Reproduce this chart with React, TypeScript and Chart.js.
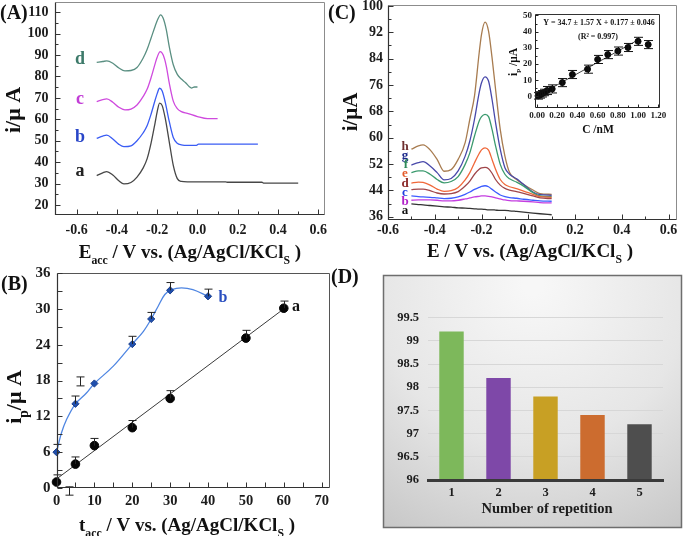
import { useEffect, useRef } from 'react';
import { Chart, registerables } from 'chart.js';

Chart.register(...registerables);

const W = 685;
const H = 536;
const SERIF = '"Liberation Serif", "Times New Roman", Times, serif';

// ---------- (A) stripping curves at different accumulation potentials ----------
const accE_a = [-0.5, -0.47, -0.45, -0.42, -0.39, -0.365, -0.33, -0.3, -0.27, -0.25, -0.23, -0.21, -0.2, -0.188, -0.175, -0.16, -0.14, -0.12, -0.1, -0.08, -0.05, 0.0, 0.14, 0.15, 0.32, 0.33, 0.5];
const accI_a = [33.7, 35.0, 35.6, 34.0, 31.3, 29.8, 30.5, 33.0, 37.2, 41.5, 49.0, 58.5, 63.5, 67.6, 66.4, 60.5, 49.5, 38.5, 32.3, 31.0, 30.8, 30.8, 30.8, 30.6, 30.6, 30.2, 30.2];
const accE_b = [-0.5, -0.47, -0.45, -0.42, -0.39, -0.365, -0.33, -0.3, -0.27, -0.25, -0.23, -0.21, -0.2, -0.188, -0.175, -0.16, -0.14, -0.12, -0.1, -0.08, -0.05, -0.005, 0.005, 0.3];
const accI_b = [51.1, 52.2, 52.6, 50.8, 48.3, 47.2, 47.6, 50.0, 53.6, 57.0, 62.5, 69.0, 72.0, 74.5, 73.2, 68.0, 59.0, 51.5, 48.8, 48.1, 47.8, 47.8, 48.4, 48.4];
const accE_c = [-0.5, -0.47, -0.45, -0.42, -0.39, -0.36, -0.33, -0.3, -0.27, -0.25, -0.23, -0.21, -0.2, -0.185, -0.17, -0.155, -0.14, -0.12, -0.1, -0.08, -0.05, 0.0, 0.05, 0.1];
const accI_c = [68.3, 69.2, 69.5, 68.0, 65.6, 64.4, 64.8, 66.7, 70.6, 74.0, 79.5, 86.0, 89.0, 91.6, 90.0, 85.0, 77.0, 68.5, 65.0, 63.6, 62.8, 61.3, 60.3, 60.3];
const accE_d = [-0.5, -0.47, -0.45, -0.42, -0.39, -0.36, -0.33, -0.3, -0.27, -0.25, -0.23, -0.21, -0.2, -0.183, -0.17, -0.155, -0.14, -0.12, -0.1, -0.08, -0.06, -0.04, -0.03, -0.015, 0.0];
const accI_d = [86.6, 87.0, 87.3, 86.2, 84.0, 82.6, 82.8, 84.2, 88.5, 92.6, 98.0, 103.5, 106.0, 108.8, 107.2, 102.0, 94.0, 85.5, 81.0, 78.8, 77.2, 75.2, 74.6, 75.1, 75.1];

// ---------- (B) peak current vs accumulation time ----------
const bTimeA = [0, 5, 10, 20, 30, 50, 60];
const bPeakA = [1.0, 4.0, 7.1, 10.1, 15.0, 25.1, 30.1];
const bErrA = [1.2, 1.2, 1.2, 1.2, 1.3, 1.3, 1.2];
const bFitT = [0, 60];
const bFitI = [1.5, 30.0];
const bTimeB = [0, 5, 10, 20, 25, 30, 40];
const bPeakB = [6.0, 14.1, 17.5, 24.1, 28.3, 33.1, 32.1];
const bErrB = [1.3, 1.3, 0, 1.3, 1.1, 1.3, 1.2];
const bCurveT = [0, 1.3, 2.6, 5, 7.9, 10, 15, 20, 22.9, 25, 26.8, 28.6, 30.4, 33, 36, 40];
const bCurveI = [6.0, 9.2, 11.4, 14.1, 15.9, 17.5, 20.4, 24.1, 26.2, 28.3, 30.4, 32.4, 33.2, 33.5, 33.2, 32.1];
const bLoneT = [6.2, 3.3];
const bLoneLo = [17.1, -1.2];
const bLoneHi = [18.6, 0.2];

// ---------- (C) curves a–h for increasing concentration ----------
const concE = [-0.5, -0.47, -0.45, -0.42, -0.39, -0.36, -0.33, -0.3, -0.27, -0.25, -0.23, -0.21, -0.2, -0.185, -0.17, -0.155, -0.14, -0.12, -0.1, -0.08, -0.05, -0.02, 0.02, 0.05, 0.1];
const concI_h = [56.5, 57.5, 57.8, 56.3, 53.4, 49.8, 50.3, 53.4, 58.5, 65.6, 72.7, 85.8, 91.4, 95.1, 92.4, 84.3, 74.7, 62.5, 54.4, 49.4, 47.3, 45.8, 44.1, 43.0, 42.8];
const concI_g = [51.7, 52.4, 52.7, 51.4, 49.4, 47.2, 47.6, 49.9, 54.4, 59.0, 65.6, 73.7, 76.7, 78.5, 77.2, 71.6, 64.6, 56.5, 50.9, 48.9, 47.5, 45.8, 43.5, 42.7, 42.5];
const concI_f = [49.4, 49.9, 49.9, 48.9, 47.3, 46.3, 46.7, 48.2, 51.9, 55.4, 60.5, 65.1, 66.4, 67.1, 66.4, 62.5, 57.5, 51.9, 48.9, 47.5, 46.5, 45.3, 43.3, 42.3, 42.1];
const concI_e = [46.2, 46.5, 46.4, 45.6, 44.4, 43.7, 43.9, 44.9, 47.2, 49.4, 52.4, 55.2, 56.3, 56.9, 56.2, 53.4, 50.4, 47.3, 45.8, 45.1, 44.5, 43.8, 42.8, 42.1, 41.9];
const concI_d = [44.2, 44.4, 44.4, 43.9, 43.2, 42.9, 43.0, 43.6, 45.3, 46.8, 48.9, 50.4, 50.8, 51.0, 50.6, 49.2, 47.3, 45.6, 44.6, 44.1, 43.6, 43.1, 42.3, 41.7, 41.5];
const concI_c = [42.3, 42.1, 42.0, 41.9, 41.7, 41.5, 41.6, 42.0, 42.8, 43.5, 44.3, 44.9, 45.2, 45.4, 45.1, 44.3, 43.5, 42.6, 42.1, 41.8, 41.6, 41.3, 41.0, 40.8, 40.7];
const concI_b = [41.0, 41.1, 41.1, 41.1, 41.0, 40.8, 40.8, 41.0, 41.4, 41.7, 42.0, 42.2, 42.3, 42.3, 42.2, 42.0, 41.7, 41.4, 41.1, 40.9, 40.8, 40.7, 40.5, 40.3, 40.2];
const concI_a = [39.9, 39.7, 39.6, 39.4, 39.2, 39.0, 38.9, 38.7, 38.6, 38.5, 38.4, 38.3, 38.3, 38.2, 38.1, 38.1, 38.0, 37.9, 37.9, 37.8, 37.6, 37.4, 37.1, 36.9, 36.6];

// ---------- (C) inset: calibration ----------
const insetConc = [0.01, 0.03, 0.05, 0.07, 0.1, 0.15, 0.25, 0.35, 0.5, 0.6, 0.7, 0.8, 0.9, 1.0, 1.1];
const insetPeak = [0.3, 0.9, 1.6, 2.4, 3.6, 4.6, 8.5, 13.5, 16.8, 22.8, 25.8, 28.0, 30.2, 34.0, 32.0];
const insetErr = [2, 2, 2, 2, 2.5, 2.5, 2.5, 2.5, 2.5, 2.5, 2.5, 2.5, 2.5, 2.5, 2.5];
const insetSlope = 34.7;
const insetIntercept = 0.177;
const insetFitConc = [0, 1.0];

// ---------- (D) repeatability ----------
const repetition = ['1', '2', '3', '4', '5'];
const recovery = [99.2, 98.2, 97.8, 97.4, 97.2];

// ---------- tick positions ----------
const potTicks = [-0.6, -0.4, -0.2, 0, 0.2, 0.4, 0.6];
const potMinor = [-0.5, -0.3, -0.1, 0.1, 0.3, 0.5];
const aYTicks = [20, 30, 40, 50, 60, 70, 80, 90, 100, 110];
const aYMinor = [25, 35, 45, 55, 65, 75, 85, 95, 105];
const bXTicks = [0, 10, 20, 30, 40, 50, 60, 70];
const bXMinor = [5, 15, 25, 35, 45, 55, 65];
const bYTicks = [0, 6, 12, 18, 24, 30, 36];
const bYMinor = [3, 9, 15, 21, 27, 33];
const cYTicks = [36, 44, 52, 60, 68, 76, 84, 92, 100];
const cYMinor = [40, 48, 56, 64, 72, 80, 88, 96];
const insetXTicks = [0, 0.2, 0.4, 0.6, 0.8, 1.0, 1.2];
const insetXMinor = [0.1, 0.3, 0.5, 0.7, 0.9, 1.1];
const insetYTicks = [0, 10, 20, 30, 40, 50];
const insetYMinor = [5, 15, 25, 35, 45];
const dYTicks = [96, 96.5, 97, 97.5, 98, 98.5, 99, 99.5];

// ---------- plot rectangles on the page (axis band sizes reserve room for tick labels) ----------
type Area = { left: number; top: number; right: number; bottom: number; yW: number; xH: number };
const areaA: Area = { left: 55, top: 2, right: 325, bottom: 215, yW: 50, xH: 30 };
const areaB: Area = { left: 56.5, top: 273, right: 330, bottom: 488, yW: 50, xH: 30 };
const areaC: Area = { left: 388, top: 5, right: 677, bottom: 220, yW: 40, xH: 26 };
const areaIn: Area = { left: 535, top: 14, right: 660, bottom: 108, yW: 24, xH: 16 };
const areaD: Area = { left: 428, top: 317.7, right: 663, bottom: 480, yW: 42, xH: 24 };

const baseOptions = (area: Area) => ({
  responsive: false,
  animation: false as const,
  devicePixelRatio: 1,
  events: [] as any[],
  layout: {
    autoPadding: false,
    padding: {
      left: area.left - area.yW,
      top: area.top,
      right: W - area.right,
      bottom: H - area.bottom - area.xH,
    },
  },
  plugins: { legend: { display: false }, tooltip: { enabled: false } },
});

const fixSize = (horizontal: boolean, size: number) => (s: any) => {
  if (horizontal) s.height = size;
  else s.width = size;
  s.paddingLeft = 0;
  s.paddingRight = 0;
  s.paddingTop = 0;
  s.paddingBottom = 0;
};

function numAxis(o: { min: number; max: number; ticks: number[]; fmt: (v: number) => string; size: number; pad: number; horizontal: boolean; band: number }) {
  return {
    type: 'linear',
    min: o.min,
    max: o.max,
    grid: { display: false, drawTicks: false },
    border: { display: false },
    afterBuildTicks: (s: any) => {
      s.ticks = o.ticks.map((v) => ({ value: v }));
    },
    afterFit: fixSize(o.horizontal, o.band),
    ticks: {
      autoSkip: false,
      maxRotation: 0,
      minRotation: 0,
      padding: o.pad,
      color: '#1c1c1c',
      font: { family: SERIF, weight: 'bold', size: o.size },
      callback: (v: any) => o.fmt(Number(v)),
    },
  };
}

// frame around the plot area plus major / minor tick marks pointing inward
function frameTicks(o: { xMaj: number[]; xMin: number[]; yMaj: number[]; yMin: number[]; maj: number; min: number; frame: string; axis: string; width?: number }) {
  return {
    id: 'frameTicks',
    afterDraw(chart: any) {
      const { ctx, chartArea: a } = chart;
      const sx = chart.scales.x;
      const sy = chart.scales.y;
      const L = Math.round(a.left) + 0.5;
      const R = Math.round(a.right) - 0.5;
      const T = Math.round(a.top) + 0.5;
      const B = Math.round(a.bottom) - 0.5;
      ctx.save();
      ctx.lineWidth = 1;
      ctx.strokeStyle = o.frame;
      ctx.beginPath();
      ctx.moveTo(L, T);
      ctx.lineTo(R, T);
      ctx.lineTo(R, B);
      ctx.stroke();
      ctx.lineWidth = o.width || 1.2;
      ctx.strokeStyle = o.axis;
      ctx.beginPath();
      ctx.moveTo(L, T);
      ctx.lineTo(L, B);
      ctx.lineTo(R, B);
      ctx.stroke();
      ctx.lineWidth = 1;
      ctx.beginPath();
      const tx = (v: number, len: number) => {
        const p = Math.round(sx.getPixelForValue(v)) + 0.5;
        ctx.moveTo(p, B);
        ctx.lineTo(p, B - len);
      };
      const ty = (v: number, len: number) => {
        const p = Math.round(sy.getPixelForValue(v)) + 0.5;
        ctx.moveTo(L, p);
        ctx.lineTo(L + len, p);
      };
      o.xMaj.forEach((v) => tx(v, o.maj));
      o.xMin.forEach((v) => tx(v, o.min));
      o.yMaj.forEach((v) => ty(v, o.maj));
      o.yMin.forEach((v) => ty(v, o.min));
      ctx.stroke();
      ctx.restore();
    },
  };
}

type Part = { t: string; sub?: boolean };

function richText(ctx: CanvasRenderingContext2D, parts: Part[], x: number, y: number, size: number, color: string, rotate = false) {
  ctx.save();
  ctx.translate(x, y);
  if (rotate) ctx.rotate(-Math.PI / 2);
  ctx.fillStyle = color;
  ctx.textBaseline = 'alphabetic';
  ctx.textAlign = 'left';
  const fontFor = (p: Part) => `bold ${p.sub ? size * 0.62 : size}px ${SERIF}`;
  let total = 0;
  parts.forEach((p) => {
    ctx.font = fontFor(p);
    total += ctx.measureText(p.t).width;
  });
  let cx = -total / 2;
  const base = size * 0.33;
  parts.forEach((p) => {
    ctx.font = fontFor(p);
    ctx.fillText(p.t, cx, base + (p.sub ? size * 0.3 : 0));
    cx += ctx.measureText(p.t).width;
  });
  ctx.restore();
}

function label(ctx: CanvasRenderingContext2D, text: string, x: number, y: number, size: number, color: string, align: CanvasTextAlign = 'center') {
  ctx.save();
  ctx.font = `bold ${size}px ${SERIF}`;
  ctx.fillStyle = color;
  ctx.textAlign = align;
  ctx.textBaseline = 'middle';
  ctx.fillText(text, x, y);
  ctx.restore();
}

const lineDs = (E: number[], I: number[], color: string, width = 1.3) => ({
  data: E.map((e, k) => ({ x: e, y: I[k] })),
  showLine: true,
  borderColor: color,
  borderWidth: width,
  pointRadius: 0,
  cubicInterpolationMode: 'monotone',
  fill: false,
});

function bar(ctx: CanvasRenderingContext2D, x: number, y0: number, y1: number, half: number, capBoth: boolean) {
  ctx.moveTo(x, y0);
  ctx.lineTo(x, y1);
  ctx.moveTo(x - half, y1);
  ctx.lineTo(x + half, y1);
  if (capBoth) {
    ctx.moveTo(x - half, y0);
    ctx.lineTo(x + half, y0);
  }
}

const accTitle: Part[] = [{ t: 'E' }, { t: 'acc', sub: true }, { t: ' / V vs. (Ag/AgCl/KCl' }, { t: 'S', sub: true }, { t: ' )' }];
const timeTitle: Part[] = [{ t: 't' }, { t: 'acc', sub: true }, { t: ' / V vs. (Ag/AgCl/KCl' }, { t: 'S', sub: true }, { t: ' )' }];
const potTitle: Part[] = [{ t: 'E / V vs. (Ag/AgCl/KCl' }, { t: 'S', sub: true }, { t: ' )' }];

export default function App() {
  const refD = useRef<HTMLCanvasElement>(null);
  const refA = useRef<HTMLCanvasElement>(null);
  const refB = useRef<HTMLCanvasElement>(null);
  const refC = useRef<HTMLCanvasElement>(null);
  const refIn = useRef<HTMLCanvasElement>(null);

  useEffect(() => {
    const charts: Chart[] = [];

    // ---------------- (A) ----------------
    charts.push(
      new Chart(refA.current as HTMLCanvasElement, {
        type: 'scatter',
        data: {
          datasets: [
            lineDs(accE_a, accI_a, '#474747'),
            lineDs(accE_b, accI_b, '#3a5cf4'),
            lineDs(accE_c, accI_c, '#cf4ade'),
            lineDs(accE_d, accI_d, '#5a8f82'),
          ] as any,
        },
        options: {
          ...baseOptions(areaA),
          scales: {
            x: numAxis({ min: -0.707, max: 0.633, ticks: potTicks, fmt: (v) => v.toFixed(1), size: 14, pad: 6.5, horizontal: true, band: areaA.xH }),
            y: numAxis({ min: 15.3, max: 114.8, ticks: aYTicks, fmt: (v) => String(v), size: 14, pad: 6.5, horizontal: false, band: areaA.yW }),
          },
        } as any,
        plugins: [
          frameTicks({ xMaj: potTicks, xMin: potMinor, yMaj: aYTicks, yMin: aYMinor, maj: 5, min: 3, frame: '#8c8c8c', axis: '#333' }),
          {
            id: 'textA',
            afterDraw(chart: any) {
              const ctx = chart.ctx;
              label(ctx, '(A)', 0, 14, 20, '#111', 'left');
              richText(ctx, accTitle, 190, 252, 19, '#111');
              richText(ctx, [{ t: 'i/μ A' }], 13, 110, 22, '#111', true);
              label(ctx, 'd', 80, 59, 18, '#3d7a6a');
              label(ctx, 'c', 80, 99, 18, '#c23dd6');
              label(ctx, 'b', 80, 137, 18, '#2946c8');
              label(ctx, 'a', 80, 171, 18, '#222');
            },
          },
        ],
      })
    );

    // ---------------- (B) ----------------
    charts.push(
      new Chart(refB.current as HTMLCanvasElement, {
        type: 'scatter',
        data: {
          datasets: [
            {
              data: bTimeB.map((t, k) => ({ x: t, y: bPeakB[k] })),
              pointStyle: 'rectRot',
              pointRadius: 3.6,
              backgroundColor: '#1f4fae',
              borderColor: '#183c8a',
              borderWidth: 1,
              clip: false,
            },
            {
              data: bTimeA.map((t, k) => ({ x: t, y: bPeakA[k] })),
              pointStyle: 'circle',
              pointRadius: 4.3,
              backgroundColor: '#050505',
              borderColor: '#050505',
              clip: false,
            },
            {
              data: bCurveT.map((t, k) => ({ x: t, y: bCurveI[k] })),
              showLine: true,
              tension: 0.35,
              borderColor: '#4f86e2',
              borderWidth: 1.3,
              pointRadius: 0,
              clip: false,
            },
            {
              data: bFitT.map((t, k) => ({ x: t, y: bFitI[k] })),
              showLine: true,
              borderColor: '#3a3a3a',
              borderWidth: 1,
              pointRadius: 0,
              clip: false,
            },
          ] as any,
        },
        options: {
          ...baseOptions(areaB),
          scales: {
            x: numAxis({ min: 0, max: 72.2, ticks: bXTicks, fmt: (v) => String(v), size: 14.5, pad: 5, horizontal: true, band: areaB.xH }),
            y: numAxis({ min: 0, max: 36, ticks: bYTicks, fmt: (v) => String(v), size: 15, pad: 6, horizontal: false, band: areaB.yW }),
          },
        } as any,
        plugins: [
          frameTicks({ xMaj: bXTicks, xMin: bXMinor, yMaj: bYTicks, yMin: bYMinor, maj: 5, min: 5, frame: '#555', axis: '#333' }),
          {
            id: 'textB',
            afterDatasetsDraw(chart: any) {
              const ctx = chart.ctx;
              const sx = chart.scales.x;
              const sy = chart.scales.y;
              ctx.save();
              ctx.strokeStyle = '#222';
              ctx.lineWidth = 1;
              ctx.beginPath();
              bTimeA.forEach((t, k) => {
                if (!bErrA[k]) return;
                const x = Math.round(sx.getPixelForValue(t)) + 0.5;
                bar(ctx, x, sy.getPixelForValue(bPeakA[k]), sy.getPixelForValue(bPeakA[k] + bErrA[k]), 4, false);
              });
              bTimeB.forEach((t, k) => {
                if (!bErrB[k]) return;
                const x = Math.round(sx.getPixelForValue(t)) + 0.5;
                bar(ctx, x, sy.getPixelForValue(bPeakB[k]), sy.getPixelForValue(bPeakB[k] + bErrB[k]), 4, false);
              });
              bLoneT.forEach((t, k) => {
                const x = Math.round(sx.getPixelForValue(t)) + 0.5;
                bar(ctx, x, sy.getPixelForValue(bLoneLo[k]), sy.getPixelForValue(bLoneHi[k]), 4, true);
              });
              ctx.stroke();
              ctx.restore();
            },
            afterDraw(chart: any) {
              const ctx = chart.ctx;
              label(ctx, '(B)', 1, 285, 20, '#111', 'left');
              richText(ctx, timeTitle, 187, 525, 19, '#111');
              richText(ctx, [{ t: 'i' }, { t: 'p', sub: true }, { t: '/μ A' }], 14, 397, 22, '#111', true);
              label(ctx, 'b', 223, 298, 16, '#2a4fc0');
              label(ctx, 'a', 296, 307, 16, '#111');
            },
          },
        ],
      })
    );

    // ---------------- (C) ----------------
    charts.push(
      new Chart(refC.current as HTMLCanvasElement, {
        type: 'scatter',
        data: {
          datasets: [
            lineDs(concE, concI_a, '#333'),
            lineDs(concE, concI_b, '#c43ee0'),
            lineDs(concE, concI_c, '#3c5cff'),
            lineDs(concE, concI_d, '#a0464a'),
            lineDs(concE, concI_e, '#f0683a'),
            lineDs(concE, concI_f, '#3b9a6e'),
            lineDs(concE, concI_g, '#4848aa'),
            lineDs(concE, concI_h, '#a87c50'),
          ] as any,
        },
        options: {
          ...baseOptions(areaC),
          scales: {
            x: numAxis({ min: -0.6, max: 0.636, ticks: potTicks, fmt: (v) => v.toFixed(1), size: 14, pad: 2, horizontal: true, band: areaC.xH }),
            y: numAxis({ min: 35, max: 100.3, ticks: cYTicks, fmt: (v) => String(v), size: 14, pad: 5, horizontal: false, band: areaC.yW }),
          },
        } as any,
        plugins: [
          frameTicks({ xMaj: potTicks, xMin: potMinor, yMaj: cYTicks, yMin: cYMinor, maj: 5, min: 3, frame: '#8c8c8c', axis: '#333' }),
          {
            id: 'textC',
            afterDraw(chart: any) {
              const ctx = chart.ctx;
              label(ctx, '(C)', 328, 14, 20, '#111', 'left');
              richText(ctx, potTitle, 530, 251, 19, '#111');
              richText(ctx, [{ t: 'i/μA' }], 350, 112, 21, '#111', true);
              label(ctx, 'h', 405, 147, 13, '#6e2f2f');
              label(ctx, 'g', 405, 156, 13, '#1c2a8c');
              label(ctx, 'f', 406, 165, 13, '#2e8a5a');
              label(ctx, 'e', 405, 174, 13, '#e55a2a');
              label(ctx, 'd', 405, 184, 13, '#8c2a2a');
              label(ctx, 'c', 405, 193, 13, '#1f3fe0');
              label(ctx, 'b', 405, 201.5, 13, '#b020c8');
              label(ctx, 'a', 405, 211, 13, '#111');
            },
          },
        ],
      })
    );

    // ---------------- (C) inset ----------------
    charts.push(
      new Chart(refIn.current as HTMLCanvasElement, {
        type: 'scatter',
        data: {
          datasets: [
            {
              data: insetConc.map((c, k) => ({ x: c, y: insetPeak[k] })),
              pointStyle: 'circle',
              pointRadius: 3,
              backgroundColor: '#0a0a0a',
              borderColor: '#0a0a0a',
              clip: false,
            },
            {
              data: insetFitConc.map((c) => ({ x: c, y: insetSlope * c + insetIntercept })),
              showLine: true,
              borderColor: '#444',
              borderWidth: 1,
              pointRadius: 0,
            },
          ] as any,
        },
        options: {
          ...baseOptions(areaIn),
          scales: {
            x: numAxis({ min: -0.02, max: 1.217, ticks: insetXTicks, fmt: (v) => v.toFixed(2), size: 9, pad: 2, horizontal: true, band: areaIn.xH }),
            y: numAxis({ min: -7.2, max: 50.9, ticks: insetYTicks, fmt: (v) => String(v), size: 9, pad: 3, horizontal: false, band: areaIn.yW }),
          },
        } as any,
        plugins: [
          frameTicks({ xMaj: insetXTicks, xMin: insetXMinor, yMaj: insetYTicks, yMin: insetYMinor, maj: 3, min: 2, frame: '#333', axis: '#222', width: 1 }),
          {
            id: 'textInset',
            afterDatasetsDraw(chart: any) {
              const ctx = chart.ctx;
              const sx = chart.scales.x;
              const sy = chart.scales.y;
              ctx.save();
              ctx.strokeStyle = '#111';
              ctx.lineWidth = 1;
              ctx.beginPath();
              insetConc.forEach((c, k) => {
                const x = Math.round(sx.getPixelForValue(c)) + 0.5;
                bar(ctx, x, sy.getPixelForValue(insetPeak[k] - insetErr[k]), sy.getPixelForValue(insetPeak[k] + insetErr[k]), 4.5, true);
              });
              ctx.stroke();
              ctx.restore();
            },
            afterDraw(chart: any) {
              const ctx = chart.ctx;
              label(ctx, `Y = ${insetSlope} ± 1.57 X + ${insetIntercept} ± 0.046`, 599, 23, 8, '#111');
              label(ctx, '(R² = 0.997)', 598, 37, 8, '#111');
              label(ctx, 'C /nM', 598, 130, 11.5, '#111');
              richText(ctx, [{ t: 'i' }, { t: 'p', sub: true }, { t: ' /μA' }], 513, 62, 11.5, '#111', true);
            },
          },
        ],
      })
    );

    // ---------------- (D) ----------------
    charts.push(
      new Chart(refD.current as HTMLCanvasElement, {
        type: 'bar',
        data: {
          labels: repetition,
          datasets: [
            {
              data: recovery,
              backgroundColor: ['#7db85b', '#7e48a8', '#c8a024', '#cc6c2f', '#4e4e4e'],
              borderWidth: 0,
              barPercentage: 0.52,
              categoryPercentage: 1,
            },
          ],
        },
        options: {
          ...baseOptions(areaD),
          scales: {
            x: {
              type: 'category',
              grid: { display: false, drawTicks: false },
              border: { display: true, color: '#3a3a3a', width: 3, z: 1 },
              afterFit: fixSize(true, areaD.xH),
              ticks: { padding: 5, color: '#1c1c1c', font: { family: SERIF, weight: 'bold', size: 12.5 } },
            },
            y: {
              type: 'linear',
              min: 96,
              max: 99.5,
              afterBuildTicks: (s: any) => {
                s.ticks = dYTicks.map((v) => ({ value: v }));
              },
              afterFit: fixSize(false, areaD.yW),
              grid: {
                drawTicks: false,
                lineWidth: 1,
                color: (c: any) => (c.tick && c.tick.value === 96 ? 'rgba(0,0,0,0)' : '#d7d7d7'),
              },
              border: { display: false },
              ticks: {
                padding: 9,
                color: '#1c1c1c',
                font: { family: SERIF, weight: 'bold', size: 12.5 },
                callback: (v: any) => String(Number(v)),
              },
            },
          },
        } as any,
        plugins: [
          {
            id: 'panelD',
            beforeDraw(chart: any) {
              const ctx = chart.ctx;
              const x0 = 383.5;
              const y0 = 275.5;
              const w = 298;
              const h = 252;
              ctx.save();
              const g = ctx.createRadialGradient(533, 285, 10, 533, 300, 330);
              g.addColorStop(0, '#f7f7f7');
              g.addColorStop(0.45, '#e6e6e6');
              g.addColorStop(1, '#b9b9b9');
              ctx.fillStyle = g;
              ctx.fillRect(x0, y0, w, h);
              ctx.strokeStyle = '#6e6e6e';
              ctx.lineWidth = 1.5;
              ctx.strokeRect(x0, y0, w, h);
              ctx.restore();
            },
            afterDraw(chart: any) {
              const ctx = chart.ctx;
              label(ctx, '(D)', 331, 278, 20, '#111', 'left');
              label(ctx, 'Number of repetition', 547, 509, 14.5, '#1c1c1c');
            },
          },
        ],
      })
    );

    return () => charts.forEach((c) => c.destroy());
  }, []);

  const style = { position: 'absolute' as const, left: 0, top: 0 };
  return (
    <div style={{ position: 'fixed', left: 0, top: 0, width: W, height: H, background: '#ffffff', overflow: 'hidden' }}>
      <canvas ref={refD} width={W} height={H} style={style} />
      <canvas ref={refA} width={W} height={H} style={style} />
      <canvas ref={refB} width={W} height={H} style={style} />
      <canvas ref={refC} width={W} height={H} style={style} />
      <canvas ref={refIn} width={W} height={H} style={style} />
    </div>
  );
}
